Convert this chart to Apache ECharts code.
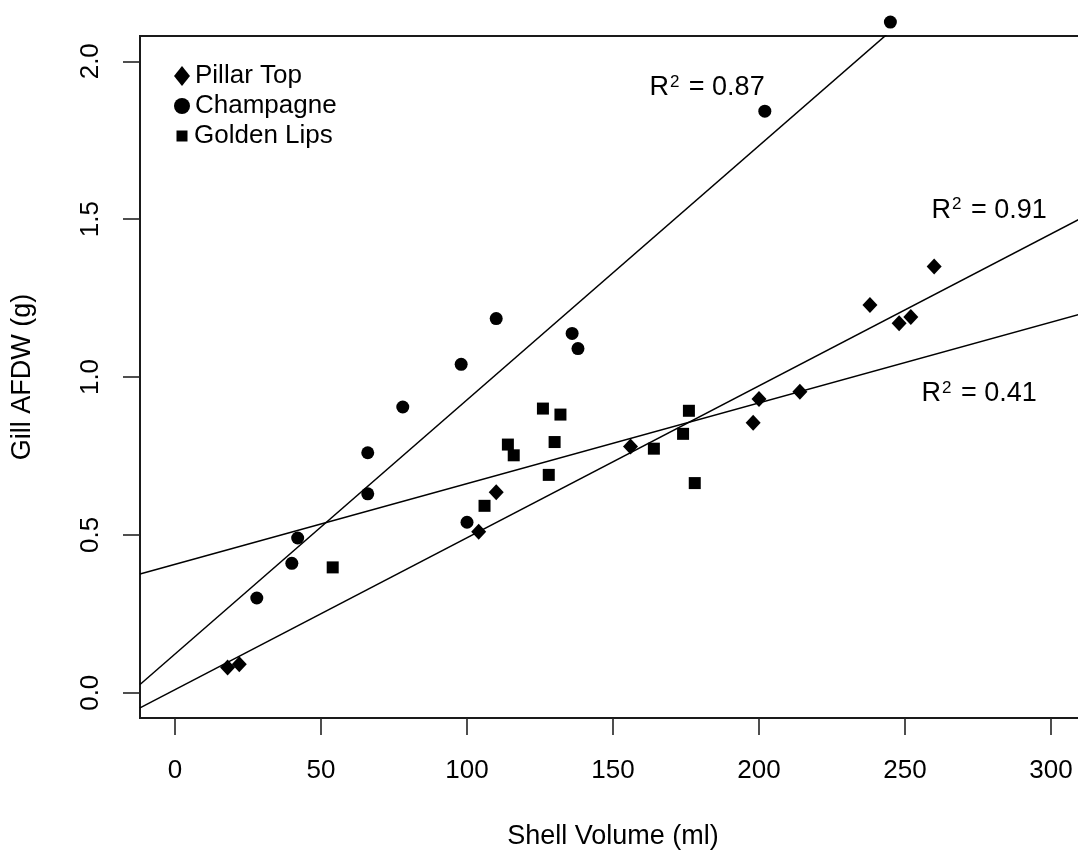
<!DOCTYPE html>
<html>
<head>
<meta charset="utf-8">
<title>Gill AFDW vs Shell Volume</title>
<script src="https://cdn.jsdelivr.net/npm/echarts@6/dist/echarts.min.js"></script>
<style>
  html, body { margin: 0; padding: 0; background: #fff; }
  #chart { width: 1078px; height: 850px; }
</style>
</head>
<body>
<div id="chart"></div>
<script>
// Shell volume (ml) and gill ash-free dry weight (g) per site
const pillarX = [18, 22, 104, 110, 156, 198, 200, 214, 238, 248, 252, 260];
const pillarY = [0.08, 0.09, 0.51, 0.635, 0.78, 0.855, 0.93, 0.953, 1.228, 1.17, 1.19, 1.35];

const champX = [28, 40, 42, 66, 66, 78, 98, 100, 110, 136, 138, 202, 245];
const champY = [0.30, 0.41, 0.49, 0.63, 0.76, 0.905, 1.04, 0.54, 1.185, 1.138, 1.09, 1.842, 2.124];

const goldX = [54, 106, 114, 116, 126, 128, 130, 132, 164, 174, 176, 178];
const goldY = [0.397, 0.592, 0.786, 0.752, 0.90, 0.69, 0.794, 0.881, 0.773, 0.82, 0.893, 0.664];

// Fitted lines: order Champagne, Pillar Top, Golden Lips
const fitIntercepts = [0.1226, 0.0099, 0.4070];
const fitSlopes = [0.00805, 0.00481, 0.002554];

// R² annotations, placed in data units
const r2Text = ['0.87', '0.91', '0.41'];
const r2X = [182.2, 278.8, 275.4];
const r2Y = [1.917, 1.528, 0.947];

// Axis extents and tick values
const xLimits = [-12, 312];
const yLimits = [-0.08, 2.08];
const xTicks = [0, 50, 100, 150, 200, 250, 300];
const yTicks = [0, 0.5, 1.0, 1.5, 2.0];

const seriesNames = ['Pillar Top', 'Champagne', 'Golden Lips'];

const FONT = 'Liberation Sans, Arial, Helvetica, sans-serif';
const INK = '#000';

function pairs(xs, ys) {
  return xs.map((x, i) => [x, ys[i]]);
}

function fitLine(i) {
  return xLimits.map(x => [x, fitIntercepts[i] + fitSlopes[i] * x]);
}

const lineSeries = fitIntercepts.map((_, i) => ({
  type: 'line',
  name: 'fit' + i,
  data: fitLine(i),
  showSymbol: false,
  symbol: 'none',
  clip: true,
  silent: true,
  lineStyle: { color: '#000', width: 1.5 },
  z: 2
}));

const markerStyle = { color: '#000', opacity: 1 };

// One legend block per series so each key symbol keeps its own size;
// icons share a common centre column and the labels share a left edge.
const legendIcon = [[16, 20], [16, 16], [11, 11]];
const legendRowTop = [58, 88, 118];
const legends = seriesNames.map((name, i) => {
  const w = legendIcon[i][0];
  return {
    data: [name],
    orient: 'vertical',
    left: 177 - w / 2,
    top: legendRowTop[i],
    itemWidth: w,
    itemHeight: legendIcon[i][1],
    selectedMode: false,
    textStyle: {
      fontFamily: FONT,
      fontSize: 26,
      color: INK,
      lineHeight: 26,
      padding: [0, 0, 0, Math.max(0, 7 - w / 2)]
    }
  };
});

const chart = echarts.init(document.getElementById('chart'), null, { renderer: 'canvas' });

chart.setOption({
  animation: false,
  backgroundColor: '#fff',
  grid: {
    left: 140,
    top: 36,
    width: 946,
    height: 682,
    outerBoundsMode: 'none',
    containLabel: false,
    show: true,
    borderColor: '#1a1a1a',
    borderWidth: 2,
    backgroundColor: 'transparent'
  },
  legend: legends,
  xAxis: {
    type: 'value',
    min: xLimits[0],
    max: xLimits[1],
    name: 'Shell Volume (ml)',
    nameLocation: 'middle',
    nameGap: 105,
    nameTextStyle: { fontFamily: FONT, fontSize: 27, color: INK },
    axisLine: { show: false, onZero: false },
    splitLine: { show: false },
    axisTick: {
      show: true,
      inside: false,
      length: 17,
      customValues: xTicks,
      lineStyle: { color: '#222', width: 1.6 }
    },
    axisLabel: {
      customValues: xTicks,
      margin: 40,
      fontFamily: FONT,
      fontSize: 26,
      color: INK
    }
  },
  yAxis: {
    type: 'value',
    min: yLimits[0],
    max: yLimits[1],
    name: 'Gill AFDW (g)',
    nameLocation: 'middle',
    nameGap: 104,
    nameRotate: 90,
    nameTextStyle: { fontFamily: FONT, fontSize: 27, color: INK },
    axisLine: { show: false, onZero: false },
    splitLine: { show: false },
    axisTick: {
      show: true,
      inside: false,
      length: 17,
      customValues: yTicks,
      lineStyle: { color: '#222', width: 1.6 }
    },
    axisLabel: {
      customValues: yTicks,
      rotate: 90,
      margin: 36,
      fontFamily: FONT,
      fontSize: 26,
      color: INK,
      formatter: v => v.toFixed(1)
    }
  },
  series: [
    ...lineSeries,
    {
      type: 'scatter',
      name: seriesNames[0],
      data: pairs(pillarX, pillarY),
      symbol: 'diamond',
      symbolSize: [15, 16],
      itemStyle: markerStyle,
      z: 3
    },
    {
      type: 'scatter',
      name: seriesNames[1],
      data: pairs(champX, champY),
      symbol: 'circle',
      symbolSize: 13,
      clip: false,
      itemStyle: markerStyle,
      z: 3
    },
    {
      type: 'scatter',
      name: seriesNames[2],
      data: pairs(goldX, goldY),
      symbol: 'rect',
      symbolSize: 12,
      itemStyle: markerStyle,
      z: 3
    },
    {
      type: 'scatter',
      name: 'r2',
      data: r2X.map((x, i) => ({ value: [x, r2Y[i]], txt: r2Text[i] })),
      symbolSize: 0,
      silent: true,
      itemStyle: { opacity: 1 },
      z: 4,
      label: {
        show: true,
        position: 'inside',
        opacity: 1,
        formatter: p => '{r|R}{s|2}{r| = ' + p.data.txt + '}',
        rich: {
          r: { fontFamily: FONT, fontSize: 27, color: INK, lineHeight: 30 },
          s: { fontFamily: FONT, fontSize: 17, color: INK, lineHeight: 30, verticalAlign: 'top', padding: [1, 2, 0, 1] }
        }
      }
    }
  ]
});
</script>
</body>
</html>
